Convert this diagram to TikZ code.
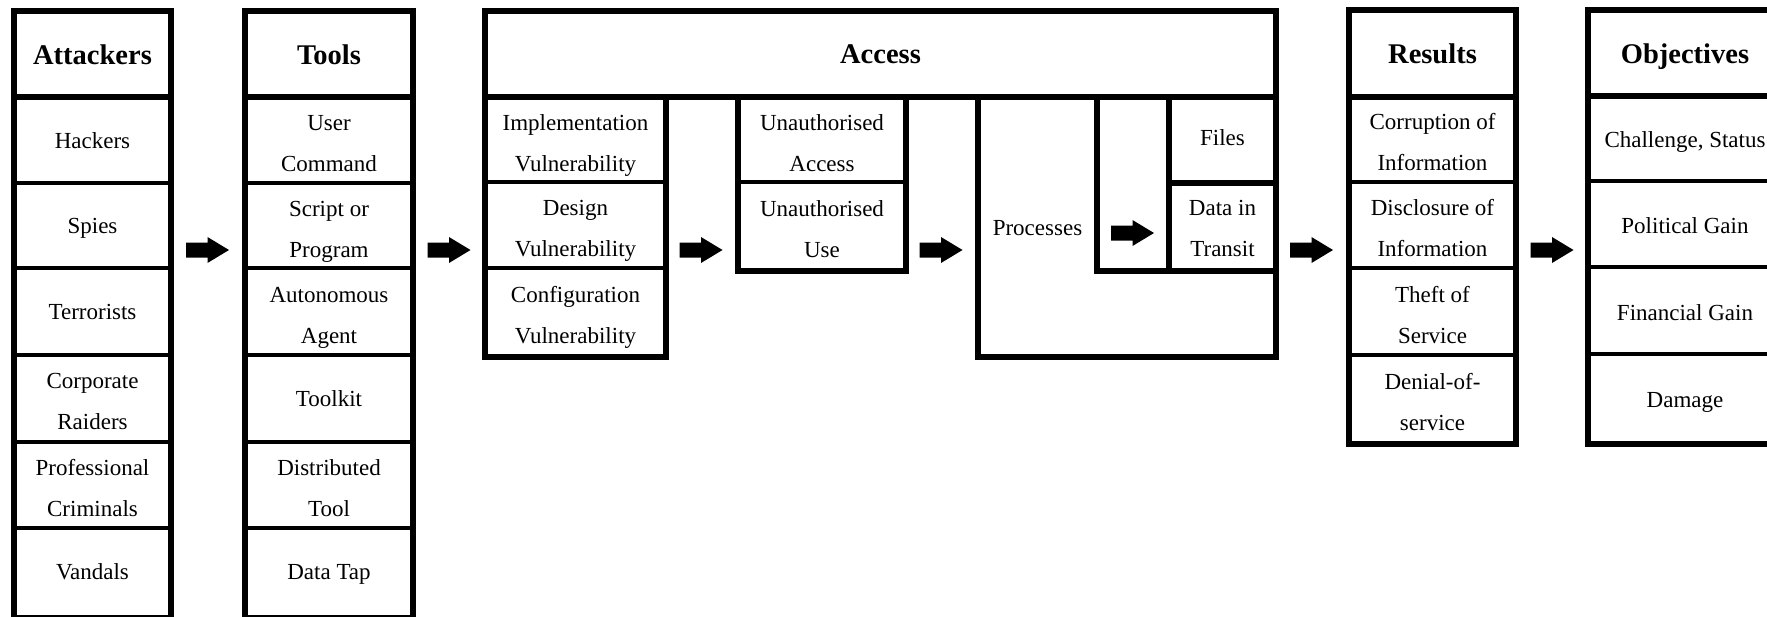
\documentclass[tikz,border=0pt]{standalone}
\usepackage{fontspec}
\setmainfont{Liberation Serif}
\begin{document}
\begin{tikzpicture}[x=1pt,y=-1pt,
  frame/.style={line width=6pt,line join=miter},
  rule/.style={line width=3.5pt},
  cell/.style={align=center,inner sep=0pt,anchor=base,font=\fontsize{23}{41}\selectfont},
  head/.style={inner sep=0pt,anchor=base,font=\fontsize{28.5}{34}\selectfont\bfseries},
  blockarrow/.pic={\fill (-21.5,-7.5) -- (0,-7.5) -- (0,-13) -- (21.5,0) -- (0,13) -- (0,7.5) -- (-21.5,7.5) -- cycle;}]
\useasboundingbox (0,0) rectangle (1767,616);
\fill[white] (0,0) rectangle (1767,616);
\clip (0,0) rectangle (1767,616);

% Attackers column (two-line cells are placed by the baseline of their last line)
\draw[frame] (14,11) rectangle (171,618);
\draw[frame] (14,97) -- (171,97);
\foreach \y in {183,268,355,442,528} \draw[rule] (14,\y) -- (171,\y);
\node[head] (att) at (92.5,64) {Attackers};
\node[cell] (att1) at (92.5,148) {Hackers};
\node[cell] (att2) at (92.5,233.5) {Spies};
\node[cell] (att3) at (92.5,319.5) {Terrorists};
\node[cell] (att4) at (92.5,429.5) {Corporate\\Raiders};
\node[cell] (att5) at (92.5,516) {Professional\\Criminals};
\node[cell] (att6) at (92.5,579) {Vandals};

% Tools column
\draw[frame] (245,11) rectangle (413,618);
\draw[frame] (245,97) -- (413,97);
\foreach \y in {183,268,355,442,528} \draw[rule] (245,\y) -- (413,\y);
\node[head] (tools) at (329,64) {Tools};
\node[cell] (t1) at (329,171) {User\\Command};
\node[cell] (t2) at (329,257) {Script or\\Program};
\node[cell] (t3) at (329,343) {Autonomous\\Agent};
\node[cell] (t4) at (329,406.5) {Toolkit};
\node[cell] (t5) at (329,516) {Distributed\\Tool};
\node[cell] (t6) at (329,579) {Data Tap};

% Access block
\draw[frame] (485,11) rectangle (1276,97);
\node[head] (acc) at (880.5,63.5) {Access};
% vulnerabilities
\draw[frame] (485,97) rectangle (666,357);
\foreach \y in {182,268} \draw[rule] (485,\y) -- (666,\y);
\node[cell] (v1) at (575.5,171) {Implementation\\Vulnerability};
\node[cell] (v2) at (575.5,256.5) {Design\\Vulnerability};
\node[cell] (v3) at (575.5,343.5) {Configuration\\Vulnerability};
% unauthorised access / use
\draw[frame] (738,97) rectangle (906,271);
\draw[rule] (738,182) -- (906,182);
\node[cell] (u1) at (822,171) {Unauthorised\\Access};
\node[cell] (u2) at (822,257) {Unauthorised\\Use};
% processes and targets
\draw[frame] (978,97) rectangle (1276,357);
\draw[frame] (1097,97) -- (1097,271) -- (1276,271);
\draw[frame] (1169,97) -- (1169,271);
\draw[frame] (1169,183) -- (1276,183);
\node[cell] (proc) at (1037.5,235) {Processes};
\node[cell] (files) at (1222.5,145) {Files};
\node[cell] (dit) at (1222.5,256) {Data in\\Transit};

% Results column
\draw[frame] (1349,10) rectangle (1516,444);
\draw[frame] (1349,97) -- (1516,97);
\foreach \y in {182,268,355} \draw[rule] (1349,\y) -- (1516,\y);
\node[head] (res) at (1432.5,63.5) {Results};
\node[cell] (r1) at (1432.5,170) {Corruption of\\Information};
\node[cell] (r2) at (1432.5,256) {Disclosure of\\Information};
\node[cell] (r3) at (1432.5,343) {Theft of\\Service};
\node[cell] (r4) at (1432.5,430) {Denial-of-\\service};

% Objectives column
\draw[frame] (1588,10) rectangle (1782,444);
\draw[frame] (1588,96) -- (1782,96);
\foreach \y in {181,267,354} \draw[rule] (1588,\y) -- (1782,\y);
\node[head] (obj) at (1685,63.5) {Objectives};
\node[cell] (o1) at (1685,147) {Challenge, Status};
\node[cell] (o2) at (1685,233) {Political Gain};
\node[cell] (o3) at (1685,320) {Financial Gain};
\node[cell] (o4) at (1685,407) {Damage};

% flow arrows
\pic at (207.5,250) {blockarrow};
\pic at (449,250) {blockarrow};
\pic at (701,250) {blockarrow};
\pic at (941,250) {blockarrow};
\pic at (1132.5,233) {blockarrow};
\pic at (1311.5,250) {blockarrow};
\pic at (1552,250) {blockarrow};
\end{tikzpicture}
\end{document}
